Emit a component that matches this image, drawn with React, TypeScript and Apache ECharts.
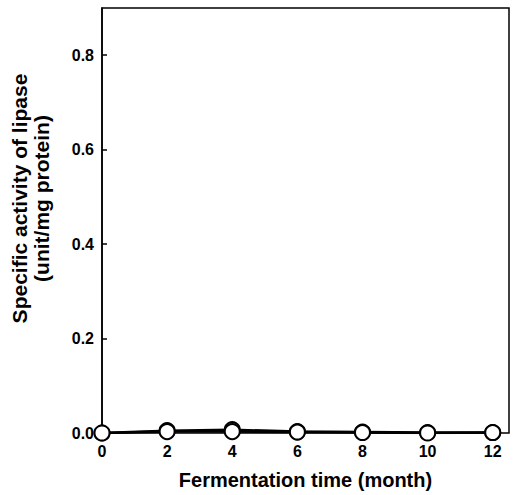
import React, { useEffect, useRef } from "react";
import * as echarts from "echarts";

const months = [0, 2, 4, 6, 8, 10, 12];
const seriesA = [0, 0.003, 0.003, 0.002, 0.001, 0.0, 0.001];
const seriesB = [0, 0.005, 0.007, 0.003, 0.002, 0.001, 0.001];
const yTickLabels = ["0.0", "0.2", "0.4", "0.6", "0.8"];

export default function App() {
  const ref = useRef<HTMLDivElement>(null);
  useEffect(() => {
    const chart = echarts.init(ref.current!, null, { renderer: "svg" });
    const font = "'Liberation Sans', Arial, sans-serif";
    const mk = (vals: number[]) => ({
      type: "line",
      data: months.map((m, i) => [m, vals[i]]),
      symbol: "circle",
      symbolSize: 15,
      lineStyle: { color: "#000", width: 2.5 },
      itemStyle: { color: "#fff", borderColor: "#000", borderWidth: 2 },
      z: 3,
    });
    chart.setOption({
      animation: false,
      grid: {
        left: 97.5,
        top: 8,
        right: 4,
        bottom: 59,
        show: true,
        borderColor: "#000",
        borderWidth: 1.5,
      },
      xAxis: {
        type: "value",
        min: 0,
        max: 12.5,
        interval: 2,
        name: "Fermentation time (month)",
        nameLocation: "middle",
        nameGap: 37,
        nameTextStyle: { fontFamily: font, fontWeight: "bold", fontSize: 20, color: "#000" },
        axisLine: { show: false },
        axisTick: { show: false },
        splitLine: { show: false },
        axisLabel: {
          showMaxLabel: false,
          fontFamily: font,
          fontWeight: "bold",
          fontSize: 16,
          color: "#000",
          margin: 10,
        },
      },
      yAxis: {
        type: "value",
        min: 0,
        max: 0.9,
        interval: 0.2,
        name: "Specific activity of lipase\n(unit/mg protein)",
        nameLocation: "middle",
        nameGap: 50,
        nameTextStyle: {
          fontFamily: font,
          fontWeight: "bold",
          fontSize: 21,
          color: "#000",
          lineHeight: 22,
          padding: [0, 0, 0, 44],
        },
        axisLine: { show: true, lineStyle: { color: "#000", width: 1.5 } },
        axisTick: { show: true, inside: true, length: 5, lineStyle: { color: "#000", width: 1.5 } },
        splitLine: { show: false },
        axisLabel: {
          showMaxLabel: false,
          fontFamily: font,
          fontWeight: "bold",
          fontSize: 16,
          color: "#000",
          margin: 8,
          formatter: (v: number) => yTickLabels[Math.round(v / 0.2)] ?? "",
        },
      },
      series: [mk(seriesB), mk(seriesA)],
    });
    return () => chart.dispose();
  }, []);
  return <div ref={ref} style={{ width: 513, height: 495, position: "absolute", left: 0, top: 0 }} />;
}
